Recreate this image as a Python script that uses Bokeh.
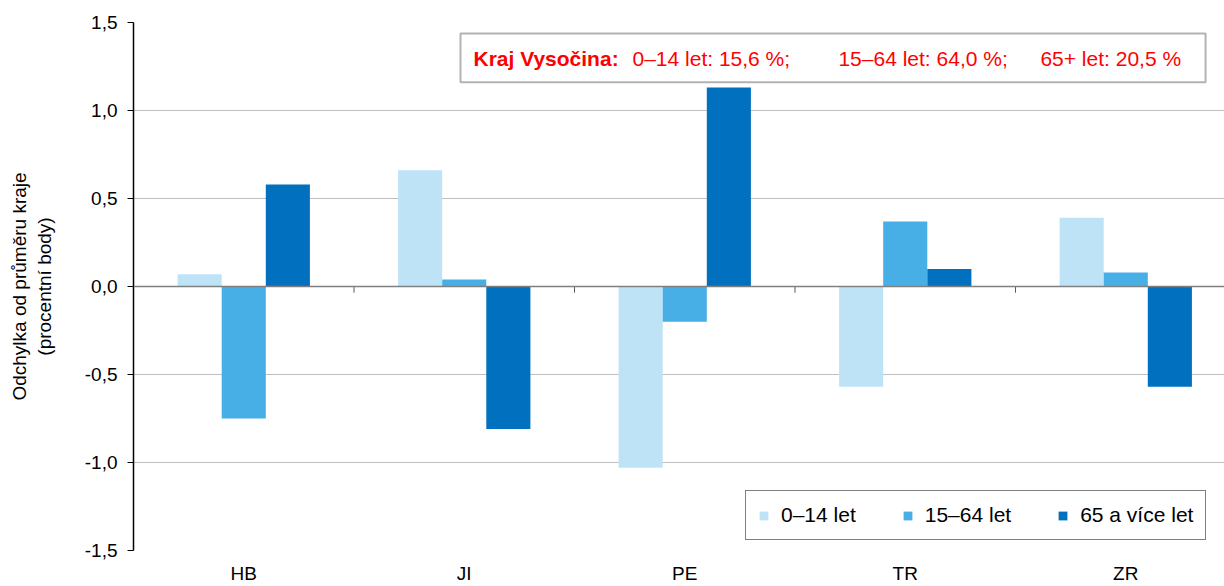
import numpy as np
from bokeh.plotting import figure
from bokeh.models import (ColumnDataSource, Range1d, FixedTicker, Span, Label,
                          BoxAnnotation)
from bokeh.embed import file_html
from bokeh.resources import INLINE

# ---- data ----
categories = ["HB", "JI", "PE", "TR", "ZR"]
series_names = ["0–14 let", "15–64 let", "65 a více let"]
v_0_14 = [0.07, 0.66, -1.03, -0.57, 0.39]
v_15_64 = [-0.75, 0.04, -0.20, 0.37, 0.08]
v_65 = [0.58, -0.81, 1.13, 0.10, -0.57]
y_ticks = [-1.5, -1.0, -0.5, 0.0, 0.5, 1.0, 1.5]
y_tick_labels = ["-1,5", "-1,0", "-0,5", "0,0", "0,5", "1,0", "1,5"]
region_name = "Kraj Vysočina:"
share_labels = ["0–14 let: 15,6 %;", "15–64 let: 64,0 %;", "65+ let: 20,5 %"]

colors = ["#BFE3F6", "#48AEE6", "#0070BF"]
FONT = "Liberation Sans"

n = len(categories)
cat_px = 220.5
W, H = 1224, 586
left_b, top_b, bottom_b = 133, 22, 34
frame_w = W - left_b
p = figure(width=W, height=H, output_backend="svg", toolbar_location=None,
           x_range=Range1d(0, frame_w / cat_px), y_range=Range1d(-1.5, 1.5),
           min_border_left=left_b, min_border_right=0, min_border_top=top_b,
           min_border_bottom=bottom_b)
p.outline_line_color = None
p.background_fill_color = "white"
p.border_fill_color = "white"

# grid
p.xgrid.visible = False
p.ygrid.ticker = FixedTicker(ticks=y_ticks)
p.ygrid.grid_line_color = "#BFBFBF"
p.ygrid.grid_line_width = 1

# bars
base = np.arange(n)
offsets = [0.3, 0.5, 0.7]
for vals, off, col, name in zip([v_0_14, v_15_64, v_65], offsets, colors, series_names):
    src = ColumnDataSource(dict(x=base + off, top=vals))
    p.vbar(x="x", top="top", bottom=0, width=0.2, source=src, fill_color=col,
           line_color=None, legend_label=name)

# zero line and category boundary ticks
p.add_layout(Span(location=0, dimension="width", line_color="#7F7F7F", line_width=1.5))
p.segment(x0=list(range(1, n)), x1=list(range(1, n)), y0=[0] * (n - 1),
          y1=[-0.035] * (n - 1), line_color="#595959", line_width=1)

# axes
yax = p.yaxis[0]
yax.ticker = FixedTicker(ticks=y_ticks)
yax.major_label_overrides = {t: l for t, l in zip(y_ticks, y_tick_labels)}
yax.axis_line_color = "black"
yax.axis_line_width = 1.5
yax.major_tick_line_color = "black"
yax.major_tick_out = 6
yax.major_tick_in = 0
yax.minor_tick_line_color = None
yax.major_label_standoff = 10
yax.major_label_text_font = FONT
yax.major_label_text_font_size = "19px"
yax.major_label_text_color = "black"
yax.axis_label = "Odchylka od průměru kraje\n(procentní body)"
yax.axis_label_text_font = FONT
yax.axis_label_text_font_size = "19px"
yax.axis_label_text_font_style = "normal"
yax.axis_label_text_color = "black"
yax.axis_label_standoff = 27

xax = p.xaxis[0]
xax.ticker = FixedTicker(ticks=[i + 0.5 for i in range(n)])
xax.major_label_overrides = {i + 0.5: c for i, c in enumerate(categories)}
xax.axis_line_color = None
xax.major_tick_line_color = None
xax.major_tick_out = 0
xax.major_tick_in = 0
xax.minor_tick_line_color = None
xax.major_label_standoff = 12
xax.major_label_text_font = FONT
xax.major_label_text_font_size = "19px"
xax.major_label_text_color = "black"

# annotation box
p.add_layout(BoxAnnotation(left=1.483, right=4.862, bottom=1.160, top=1.438,
                           fill_color="white", fill_alpha=1.0,
                           line_color="black", line_width=2))
p.add_layout(Label(x=1.542, y=1.296, text=region_name, text_font=FONT,
                   text_font_size="21px", text_font_style="bold",
                   text_color="#FF0000", text_baseline="middle"))
for xpos, txt in zip([2.263, 3.197, 4.113], share_labels):
    p.add_layout(Label(x=xpos, y=1.296, text=txt, text_font=FONT,
                       text_font_size="21px", text_color="#FF0000",
                       text_baseline="middle"))

# legend
lg = p.legend[0]
lg.orientation = "horizontal"
lg.location = (612, 10)
lg.border_line_color = "black"
lg.border_line_width = 1.5
lg.background_fill_color = "white"
lg.background_fill_alpha = 1.0
lg.padding = 12
lg.spacing = 46
lg.margin = 0
lg.glyph_width = 11
lg.glyph_height = 11
lg.label_standoff = 12
lg.label_text_font = FONT
lg.label_text_font_size = "21px"
lg.label_text_color = "black"

open("out.html", "w").write(file_html(p, INLINE))
